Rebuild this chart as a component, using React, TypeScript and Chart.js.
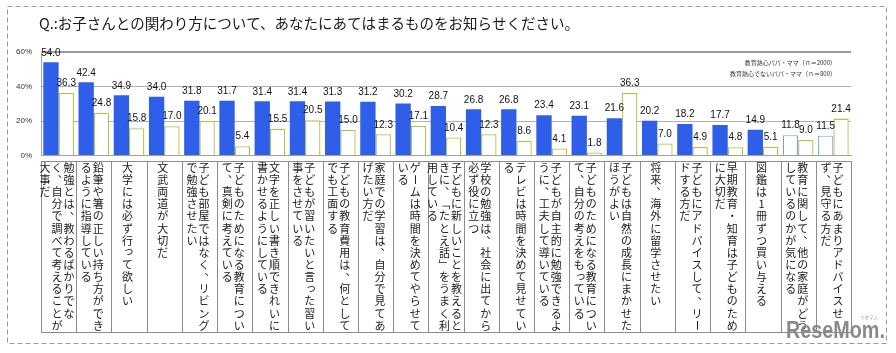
import React, { useEffect, useRef } from 'react';
import { Chart, registerables } from 'chart.js';

Chart.register(...registerables);

const TITLE = 'Q.:お子さんとの関わり方について、あなたにあてはまるものをお知らせください。';
const seriesNames = ['教育熱心パパ・ママ（ｎ＝2000）', '教育熱心でないパパ・ママ（ｎ＝800）'];

// Category labels, written vertically: each entry lists its columns (right to left)
const categories: string[][] = [
  ['勉強とは、教わるばかりでな', 'く、自分で調べて考えることが', '大事だ'],
  ['鉛筆や箸の正しい持ち方ができ', 'るように指導している'],
  ['大学には必ず行って欲しい'],
  ['文武両道が大切だ'],
  ['子ども部屋ではなく、リビング', 'で勉強させたい'],
  ['子どものためになる教育につい', 'て、真剣に考えている'],
  ['文字を正しい書き順できれいに', '書かせるようにしている'],
  ['子どもが習いたいと言った習い', '事をさせている'],
  ['子どもの教育費用は、何として', 'でも工面する'],
  ['家庭での学習は、自分で見てあ', 'げたい方だ'],
  ['ゲームは時間を決めてやらせて', 'いる'],
  ['子どもに新しいことを教えると', 'きに、「たとえ話」をうまく利', '用している'],
  ['学校の勉強は、社会に出てから', '必ず役に立つ'],
  ['テレビは時間を決めて見せてい', 'る'],
  ['子どもが自主的に勉強できるよ', 'うに、工夫して導いている'],
  ['子どものためになる教育につい', 'て、自分の考えをもっている'],
  ['子どもは自然の成長にまかせた', 'ほうがよい'],
  ['将来、海外に留学させたい'],
  ['子どもにアドバイスして、リー', 'ドする方だ'],
  ['早期教育・知育は子どものため', 'に大切だ'],
  ['図鑑は1冊ずつ買い与える'],
  ['教育に関して、他の家庭がどう', 'しているのかが気になる'],
  ['子どもにあまりアドバイスせ', 'ず、見守る方だ'],
];

const eagerValues = [54.0, 42.4, 34.9, 34.0, 31.8, 31.7, 31.4, 31.4, 31.3, 31.2, 30.2, 28.7, 26.8, 26.8, 23.4, 23.1, 21.6, 20.2, 18.2, 17.7, 14.9, 11.8, 11.5];
const nonEagerValues = [36.3, 24.8, 15.8, 17.0, 20.1, 5.4, 15.5, 20.5, 15.0, 12.3, 17.1, 10.4, 12.3, 8.6, 4.1, 1.8, 36.3, 7.0, 4.9, 4.8, 5.1, 9.0, 21.4];
// categories whose "eager" bar is drawn hollow in the original
const hollowEager = [21, 22];

const Y_MIN = 0;
const Y_MAX = 60;
const Y_STEP = 20;

const FONT_JP = '"Noto Sans CJK JP", "Noto Sans", sans-serif';
const FONT_NUM = '"Liberation Sans", Arial, sans-serif';

const BLUE = '#2f5fe9';
const BLUE_LIGHT = '#7f9ce6';
const GREEN = '#abc64a';

const ROTATE_CHARS = new Set(['ー', '「', '」', '（', '）', '〜']);
const PUNCT_CHARS = new Set(['、', '。']);
const SMALL_KANA = new Set(Array.from('ぁぃぅぇぉっゃゅょゎァィゥェォッャュョヮ'));

function drawVerticalColumns(
  ctx: CanvasRenderingContext2D,
  columns: string[],
  cx: number,
  top: number,
  fontSize: number,
  colGap: number,
  rowH: number
) {
  const n = columns.length;
  ctx.font = `${fontSize}px ${FONT_JP}`;
  ctx.textAlign = 'center';
  ctx.textBaseline = 'middle';
  ctx.fillStyle = '#1a1a1a';
  for (let c = 0; c < n; c++) {
    const x = cx + ((n - 1) / 2 - c) * colGap;
    Array.from(columns[c]).forEach((ch, r) => {
      const y = top + rowH * (r + 0.5);
      if (ROTATE_CHARS.has(ch)) {
        ctx.save();
        ctx.translate(x, y);
        ctx.rotate(Math.PI / 2);
        ctx.fillText(ch, 0, 0);
        ctx.restore();
      } else if (PUNCT_CHARS.has(ch)) {
        ctx.fillText(ch, x + fontSize * 0.55, y - fontSize * 0.6);
      } else if (SMALL_KANA.has(ch)) {
        ctx.fillText(ch, x + fontSize * 0.12, y - fontSize * 0.12);
      } else {
        ctx.fillText(ch, x, y);
      }
    });
  }
}

const decorPlugin = {
  id: 'decor',
  beforeDraw(chart: any) {
    const ctx: CanvasRenderingContext2D = chart.ctx;
    ctx.save();
    ctx.fillStyle = '#ffffff';
    ctx.fillRect(0, 0, chart.width, chart.height);
    // dashed frame
    ctx.strokeStyle = '#9a9a9a';
    ctx.lineWidth = 1;
    ctx.setLineDash([5, 3]);
    ctx.strokeRect(7.5, 6.5, 879, 337);
    ctx.setLineDash([]);
    // title
    ctx.fillStyle = '#1a1a1a';
    ctx.font = `14.5px ${FONT_JP}`;
    ctx.textAlign = 'left';
    ctx.textBaseline = 'middle';
    ctx.fillText(TITLE, 39, 23);
    ctx.restore();
  },
  afterDraw(chart: any) {
    const ctx: CanvasRenderingContext2D = chart.ctx;
    const area = chart.chartArea;
    const xScale = chart.scales.x;
    ctx.save();

    // value labels
    ctx.font = `10px ${FONT_NUM}`;
    ctx.fillStyle = '#111';
    ctx.textAlign = 'center';
    ctx.textBaseline = 'middle';
    chart.data.datasets.forEach((ds: any, di: number) => {
      const meta = chart.getDatasetMeta(di);
      meta.data.forEach((bar: any, i: number) => {
        const v = ds.data[i];
        ctx.fillText(v.toFixed(1), bar.x, bar.y - 9.5);
      });
    });

    // legend (text only)
    ctx.font = `6px ${FONT_JP}`;
    ctx.fillStyle = '#333';
    ctx.textAlign = 'right';
    ctx.fillText(chart.data.datasets[0].label, 836, 63);
    ctx.fillText(chart.data.datasets[1].label, 836, 74);

    // category table
    const labels: string[][] = chart.data.labels;
    const n = labels.length;
    const w = (area.right - area.left) / n;
    const tTop = 161.5;
    const tBottom = 332.5;
    ctx.strokeStyle = '#8c8c8c';
    ctx.lineWidth = 1;
    for (let i = 0; i < n; i++) {
      const cx = xScale.getPixelForValue(i);
      const l = Math.round(cx - w / 2) + 0.5;
      const r = Math.round(cx + w / 2) + 0.5;
      ctx.strokeRect(l, tTop, r - l, tBottom - tTop);
      drawVerticalColumns(ctx, labels[i], cx - 1.5, tTop, 11, 12, 12.15);
    }

    // logo watermark
    ctx.save();
    ctx.translate(786, 338);
    ctx.scale(0.86, 1);
    ctx.font = `bold 23px ${FONT_NUM}`;
    ctx.fillStyle = '#8a8a8a';
    ctx.textAlign = 'left';
    ctx.textBaseline = 'alphabetic';
    ctx.fillText('ReseMom.', 0, 0);
    ctx.restore();
    ctx.font = `4.5px ${FONT_JP}`;
    ctx.fillStyle = '#999';
    ctx.textAlign = 'center';
    ctx.fillText('リセマム', 869, 317);

    ctx.restore();
  },
};

export default function App() {
  const canvasRef = useRef<HTMLCanvasElement | null>(null);

  useEffect(() => {
    const canvas = canvasRef.current;
    if (!canvas) return;
    const chart = new Chart(canvas, {
      type: 'bar',
      data: {
        labels: categories as any,
        datasets: [
          {
            label: seriesNames[0],
            data: eagerValues,
            backgroundColor: (c: any) => (hollowEager.includes(c.dataIndex) ? '#ffffff' : BLUE),
            borderColor: (c: any) => (hollowEager.includes(c.dataIndex) ? BLUE_LIGHT : BLUE),
            borderWidth: (c: any) => (hollowEager.includes(c.dataIndex) ? 1.2 : 0),
          },
          {
            label: seriesNames[1],
            data: nonEagerValues,
            backgroundColor: '#ffffff',
            borderColor: GREEN,
            borderWidth: 1.3,
          },
        ],
      },
      options: {
        responsive: false,
        animation: false,
        events: [],
        layout: { padding: { left: 10, right: 45, top: 52, bottom: 197.5 } },
        datasets: { bar: { categoryPercentage: 0.87, barPercentage: 1 } },
        scales: {
          x: {
            ticks: { display: false },
            grid: { display: false, drawTicks: false },
            border: { display: true, color: '#a0a0a0' },
            afterFit: (s: any) => {
              s.height = 0;
            },
          },
          y: {
            min: Y_MIN,
            max: Y_MAX,
            ticks: {
              stepSize: Y_STEP,
              callback: (v: any) => `${v}%`,
              font: { family: FONT_NUM, size: 8 },
              color: '#333',
              padding: 9,
            },
            grid: {
              drawTicks: false,
              color: (c: any) => (c.tick && c.tick.value === Y_MAX ? '#9a9a9a' : '#b0b0b0'),
              lineWidth: (c: any) => (c.tick && c.tick.value === Y_MAX ? 2 : 1),
            },
            border: { display: true, color: '#a0a0a0' },
            afterFit: (s: any) => {
              s.width = 31;
            },
          },
        },
        plugins: { legend: { display: false }, tooltip: { enabled: false } },
      } as any,
      plugins: [decorPlugin],
    });
    return () => chart.destroy();
  }, []);

  return (
    <div style={{ position: 'fixed', left: 0, top: 0, width: 896, height: 353, background: '#fff' }}>
      <canvas ref={canvasRef} width={896} height={353} style={{ width: 896, height: 353, display: 'block' }} />
    </div>
  );
}
